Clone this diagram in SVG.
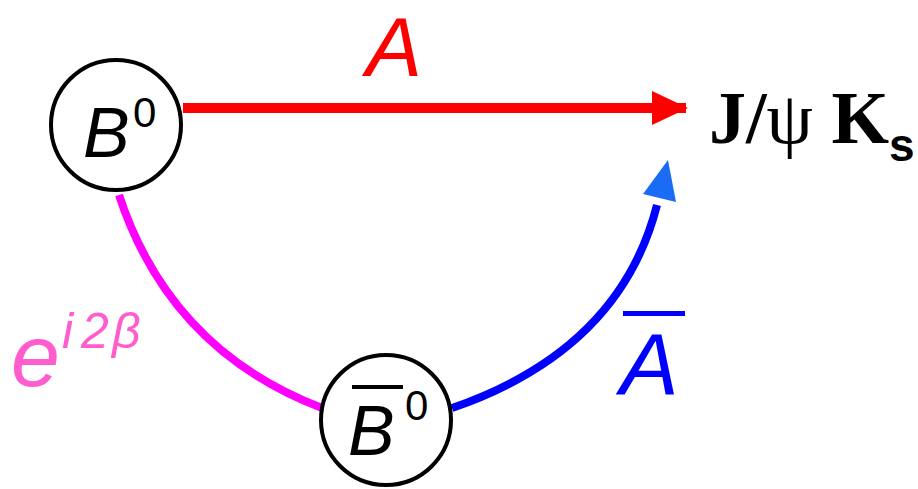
<svg xmlns="http://www.w3.org/2000/svg" width="918" height="489" viewBox="0 0 918 489">
<style>
.node{fill:#fff;stroke:#000;stroke-width:4}
.lbl{font-family:"Liberation Sans",Arial,sans-serif;font-style:italic}
.fin{font-family:"Liberation Serif","Times New Roman",serif;font-weight:bold}
</style>
<defs>
<marker id="ah-red" markerUnits="userSpaceOnUse" markerWidth="36" markerHeight="36" viewBox="0 0 36 36" refX="34" refY="18" orient="auto">
<path d="M0,1 L36,18 L0,35 Z" fill="#ff0000"/>
</marker>
</defs>
<rect width="918" height="489" fill="#fff"/>
<g id="connectors">
<line x1="183" y1="108" x2="686" y2="108" stroke="#ff0000" stroke-width="10" marker-end="url(#ah-red)"/>
<path d="M119,195 Q170,350 322,408" fill="none" stroke="#ff00ff" stroke-width="8"/>
<path d="M452,408 Q620,350 657,205" fill="none" stroke="#0000ff" stroke-width="8"/>
<path d="M668,160 L676,202 L643,194 Z" fill="#1a6cf5"/>
</g>
<g id="label-A"><text class="lbl" x="366" y="76" font-size="84" fill="#ff0000">A</text></g>
<g id="label-Abar"><text class="lbl" x="620" y="395" font-size="88" fill="#0000ff">A</text><rect x="623" y="311" width="62" height="5" fill="#0000ff"/></g>
<g id="label-phase">
<text class="lbl" x="11" y="386" font-size="88" fill="#ff5ccd" font-style="normal">e</text>
<text class="lbl" x="62" y="348" font-size="50" fill="#ff5ccd">i</text>
<text class="lbl" x="81" y="348" font-size="50" fill="#ff5ccd">2</text>
<text class="lbl" x="112" y="348" font-size="50" fill="#ff5ccd">β</text>
</g>
<g id="node-B0">
<circle class="node" cx="116" cy="125" r="65"/>
<text class="lbl" x="83" y="157" font-size="70" fill="#000">B</text>
<text x="133" y="127" font-size="42" fill="#000" font-family="Liberation Sans,Arial,sans-serif">0</text>
</g>
<g id="node-B0bar">
<circle class="node" cx="386" cy="420" r="65"/>
<text class="lbl" x="348" y="455" font-size="70" fill="#000">B</text>
<rect x="352" y="385" width="51" height="4" fill="#000"/>
<text x="405" y="420" font-size="42" fill="#000" font-family="Liberation Sans,Arial,sans-serif">0</text>
</g>
<g id="node-final">
<text class="fin" x="709" y="143" font-size="74" fill="#000">J/<tspan font-weight="normal">ψ</tspan> K</text>
<text x="889" y="161" font-size="46" font-weight="bold" fill="#000" font-family="Liberation Sans,Arial,sans-serif">s</text>
</g>
</svg>
